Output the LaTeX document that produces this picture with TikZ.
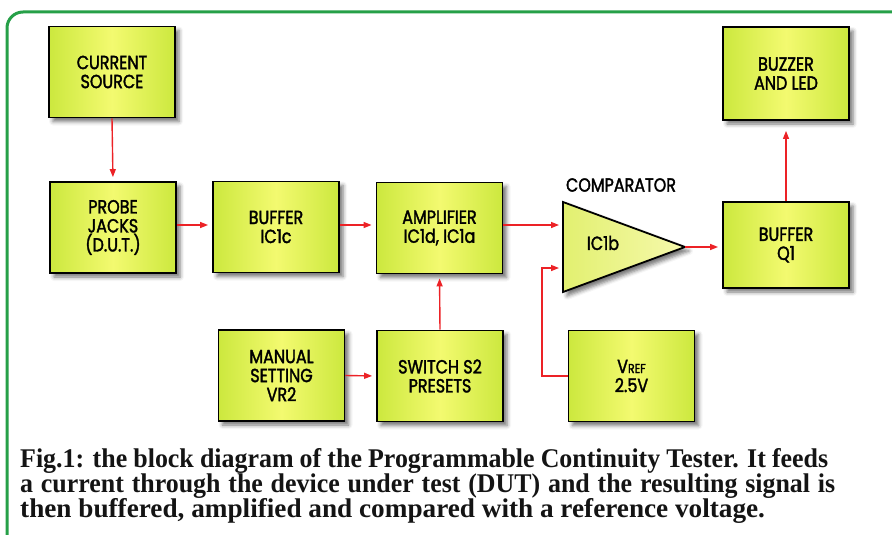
\documentclass[tikz,border=0pt]{standalone}
\usepackage{graphicx}
\usepackage{fontspec}
\setsansfont[FakeStretch=0.84,FakeBold=1.8]{Poppins}
\newfontfamily\capfont[FakeStretch=0.96]{Liberation Serif}
\usetikzlibrary{arrows.meta,shadows.blur}

\definecolor{boxedge}{RGB}{204,232,62}
\definecolor{boxmid}{RGB}{243,250,112}
\definecolor{triedge}{RGB}{226,240,112}
\definecolor{trimid}{RGB}{246,249,172}
\definecolor{framegreen}{RGB}{38,160,72}
\definecolor{wire}{RGB}{236,34,38}
\definecolor{captext}{RGB}{20,20,20}

\tikzset{
  lbl/.style={font=\sffamily\fontsize{19}{19}\selectfont},
  blk/.style={lbl, draw=black, line width=1.8pt,
    left color=boxedge, right color=boxedge, middle color=boxmid,
    minimum width=126pt, minimum height=91pt, inner sep=0pt,
    align=center,
    blur shadow={shadow xshift=4pt, shadow yshift=-4pt,
      shadow blur radius=4pt, shadow opacity=55}},
  sig/.style={draw=wire, line width=1.4pt,
    -{Triangle[length=8pt,width=6pt]}, shorten >=4pt},
  capline/.style={anchor=base west, inner sep=0pt, text=captext,
    font=\capfont\bfseries\fontsize{27}{25}\selectfont},
}

\begin{document}
\begin{tikzpicture}[x=1pt,y=-1pt]
  \useasboundingbox (0,0) rectangle (892,535);

  % outer frame
  \draw[framegreen, line width=3pt, rounded corners=16pt]
    (7,560) -- (7,12) -- (910,12);

  % blocks
  \node[blk] (cs)  at (112,72)    {CURRENT\\SOURCE};
  \node[blk] (pj)  at (113,227.5) {PROBE\\JACKS\\(D.U.T.)};
  \node[blk] (bf1) at (276,227)   {BUFFER\\IC1c};
  \node[blk] (amp) at (439.5,228) {AMPLIFIER\\IC1d, IC1a};
  \node[blk] (man) at (281.5,375.5) {MANUAL\\SETTING\\VR2};
  \node[blk] (sw)  at (440,376)   {SWITCH S2\\PRESETS};
  \node[blk] (ref) at (631.5,376) {V{\fontsize{13}{15}\selectfont REF}\\2.5V};
  \node[blk, minimum height=86pt] (bq) at (786,245) {BUFFER\\Q1};
  \node[blk, minimum height=93pt] (bz) at (786,73.5) {BUZZER\\AND LED};

  % comparator
  \coordinate (cmpTop) at (563,202);
  \coordinate (cmpBot) at (563,292);
  \coordinate (cmpOut) at (685,247);
  \coordinate (cmpInA) at (563,225);
  \coordinate (cmpInB) at (563,268);
  \path[draw=black, line width=1.8pt, line join=miter,
    left color=triedge, right color=trimid,
    blur shadow={shadow xshift=4pt, shadow yshift=-4pt,
      shadow blur radius=4pt, shadow opacity=55}]
    (cmpTop) -- (cmpOut) -- (cmpBot) -- cycle;
  \node[lbl] (cmpName) at (603,243) {IC1b};
  \node[lbl] (cmpLbl) at (621,185) {COMPARATOR};

  % signal paths
  \draw[sig] (cs.south) -- (pj.north);
  \draw[sig] (pj.east |- 0,225) -- (bf1.west |- 0,225);
  \draw[sig] (bf1.east |- 0,225) -- (amp.west |- 0,225);
  \draw[sig] (amp.east |- cmpInA) -- (cmpInA);
  \draw[sig] (ref.west) -- (542,376) -- (542,268) -- (cmpInB);
  \draw[sig] (cmpOut) -- (bq.west |- cmpOut);
  \draw[sig, line width=1.1pt, shorten >=10pt] (bq.north) -- (bz.south);
  \draw[sig] (man.east) -- (sw.west);
  \draw[sig] (sw.north) -- (amp.south);

  % caption
  \node[capline] (cap1) at (20,467) {\makebox[808pt][s]{Fig.1: the block diagram of the Programmable Continuity Tester. It feeds}};
  \node[capline] (cap2) at (20,492) {\makebox[815pt][s]{a current through the device under test (DUT) and the resulting signal is}};
  \node[capline] (cap3) at (20,517) {\scalebox{1.05}[1]{then buffered, amplified and compared with a reference voltage.}};
\end{tikzpicture}
\end{document}
